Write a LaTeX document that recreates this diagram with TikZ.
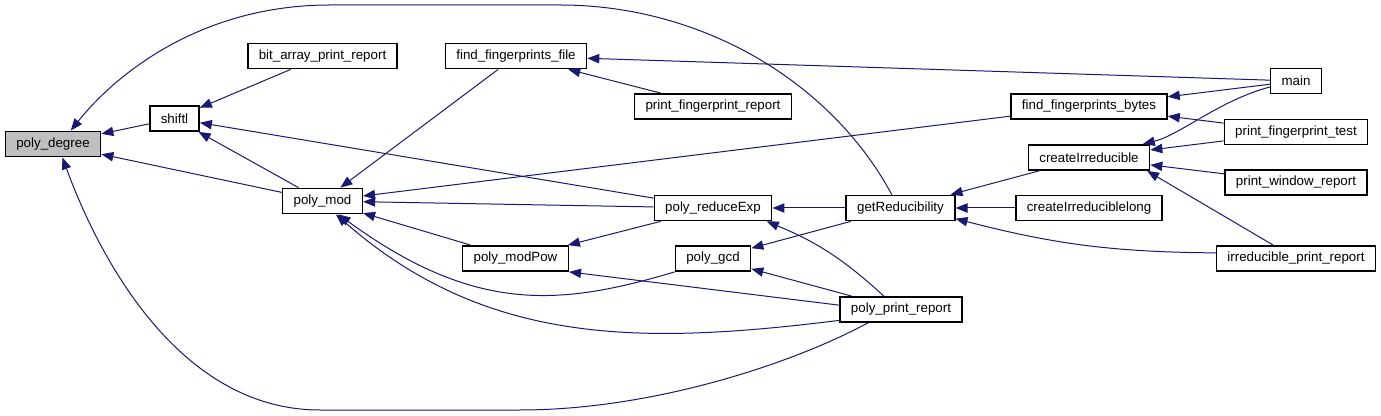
\documentclass[tikz,border=0pt]{standalone}
\usepackage{fontspec}
\setmainfont{Liberation Sans}
\usetikzlibrary{arrows.meta}
\definecolor{callblue}{RGB}{25,25,112}
\tikzset{
  fn/.style    = {rectangle, draw, line width=1.1pt, fill=white, minimum height=19pt, inner xsep=8.2pt, inner ysep=0pt, font=\fontsize{10}{12}\selectfont},
  focus/.style = {fn, fill=gray!50},
  call/.style  = {draw=callblue, line width=0.75pt, -{Triangle[length=9pt, width=7pt]}}
}

\begin{document}
\begin{tikzpicture}[x=0.75pt, y=-0.75pt]
  \useasboundingbox (0,0) rectangle (1381,416);
  % functions
  \node[focus] (pdeg)       at (53,144)      {poly\_degree};
  \node[fn]    (shiftl)     at (174.5,118.5) {shiftl};
  \node[fn]    (bitrep)     at (322.5,56)    {bit\_array\_print\_report};
  \node[fn]    (pmod)       at (322.5,201)   {poly\_mod};
  \node[fn]    (fffile)     at (516,56)      {find\_fingerprints\_file};
  \node[fn]    (pfrep)      at (713,106.5)   {print\_fingerprint\_report};
  \node[fn]    (predexp)    at (713,208)     {poly\_reduceExp};
  \node[fn]    (pmodpow)    at (515.5,258.5) {poly\_modPow};
  \node[fn]    (pgcd)       at (713,258.5)   {poly\_gcd};
  \node[fn]    (getred)     at (900.5,208)   {getReducibility};
  \node[fn]    (pprint)     at (901,309.5)   {poly\_print\_report};
  \node[fn]    (ffbytes)    at (1089,106.5)  {find\_fingerprints\_bytes};
  \node[fn]    (createirr)  at (1089,157.5)  {createIrreducible};
  \node[fn]    (createirrl) at (1089,208)    {createIrreduciblelong};
  \node[fn]    (mainf)      at (1296,81)     {main};
  \node[fn]    (pftest)     at (1296,132)    {print\_fingerprint\_test};
  \node[fn]    (pwrep)      at (1296,182.5)  {print\_window\_report};
  \node[fn]    (irrrep)     at (1296,258.5)  {irreducible\_print\_report};
  % callers -> callees
  \draw[call] (shiftl) -- (pdeg);
  \draw[call] (pmod) -- (pdeg);
  \draw[call] (getred.123) .. controls (830,80) and (700,5) .. (560,5) -- (330,5) .. controls (200,5) and (115,75) .. (pdeg.37);
  \draw[call] (pprint.202) .. controls (790,365) and (650,410) .. (520,410) -- (320,410) .. controls (180,410) and (100,260) .. (pdeg.305);
  \draw[call] (bitrep) -- (shiftl);
  \draw[call] (pmod) -- (shiftl);
  \draw[call] (predexp) -- (shiftl);
  \draw[call] (fffile) -- (pmod);
  \draw[call] (ffbytes) -- (pmod);
  \draw[call] (predexp) -- (pmod);
  \draw[call] (pmodpow) -- (pmod);
  \draw[call] (pgcd.south west) .. controls (560,306) and (475,314) .. (pmod.320);
  \draw[call] (pprint.190) .. controls (641,345) and (486,346) .. (pmod.315);
  \draw[call] (pfrep) -- (fffile);
  \draw[call] (mainf) -- (fffile);
  \draw[call] (getred) -- (predexp);
  \draw[call] (pprint.142) to[bend right=10] (predexp.346);
  \draw[call] (predexp) -- (pmodpow);
  \draw[call] (pprint.176) -- (pmodpow.south east);
  \draw[call] (getred) -- (pgcd);
  \draw[call] (pprint) -- (pgcd);
  \draw[call] (createirr) -- (getred);
  \draw[call] (createirrl) -- (getred);
  \draw[call] (irrrep.176) to[bend left=7] (getred.349);
  \draw[call] (mainf) -- (ffbytes);
  \draw[call] (pftest) -- (ffbytes);
  \draw[call] (mainf.193) .. controls (1220,100) and (1180,135) .. (createirr.14);
  \draw[call] (pftest) -- (createirr);
  \draw[call] (pwrep) -- (createirr);
  \draw[call] (irrrep) -- (createirr.347);
\end{tikzpicture}
\end{document}
